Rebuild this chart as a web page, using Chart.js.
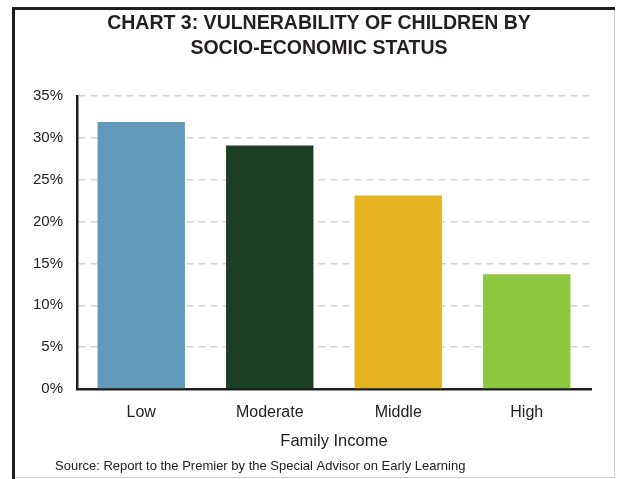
<!DOCTYPE html>
<html>
<head>
<meta charset="utf-8">
<script src="https://cdn.jsdelivr.net/npm/chart.js@4/dist/chart.umd.min.js"></script>
<style>
  html, body { margin: 0; padding: 0; background: #fff; }
  #wrap { width: 618px; height: 479px; position: relative; }
</style>
</head>
<body>
<div id="wrap"><canvas id="chart" width="618" height="479"></canvas></div>
<script>
const categories = ['Low', 'Moderate', 'Middle', 'High'];
const vulnerable = [31.9, 29.1, 23.1, 13.7];
const barColors = ['#6399bb', '#1b3f25', '#e5b322', '#8dc63f'];
const yTicks = [0, 5, 10, 15, 20, 25, 30, 35];
const titleLines = ['CHART 3: VULNERABILITY OF CHILDREN BY', 'SOCIO-ECONOMIC STATUS'];
const axisTitle = 'Family Income';
const sourceNote = 'Source: Report to the Premier by the Special Advisor on Early Learning';

const FONT = "'Liberation Sans', Arial, sans-serif";

// frame, title (centred a bit right of the plot like the original) and source line
const framePlugin = {
    id: 'frame',
    afterDraw(chart) {
        const ctx = chart.ctx;
        ctx.save();
        ctx.strokeStyle = '#cfcfcf';
        ctx.lineWidth = 1;
        ctx.beginPath();
        ctx.moveTo(614.5, 8);
        ctx.lineTo(614.5, 477.5);
        ctx.lineTo(13, 477.5);
        ctx.stroke();
        ctx.strokeStyle = '#1e1e1e';
        ctx.lineWidth = 3;
        ctx.beginPath();
        ctx.moveTo(13.5, 479);
        ctx.lineTo(13.5, 8.5);
        ctx.lineTo(615, 8.5);
        ctx.stroke();

        ctx.fillStyle = '#231f20';
        ctx.font = 'bold 19.5px ' + FONT;
        ctx.textAlign = 'center';
        ctx.textBaseline = 'middle';
        titleLines.forEach((line, i) => ctx.fillText(line, 319, 23.5 + i * 25));

        ctx.fillStyle = '#222';
        ctx.font = '13px ' + FONT;
        ctx.textAlign = 'left';
        ctx.fillText(sourceNote, 55, 466);
        ctx.restore();
    }
};

new Chart(document.getElementById('chart'), {
    type: 'bar',
    data: {
        labels: categories,
        datasets: [{
            data: vulnerable,
            backgroundColor: barColors,
            borderWidth: 0,
            categoryPercentage: 1,
            barPercentage: 0.68
        }]
    },
    options: {
        responsive: false,
        animation: false,
        layout: { padding: { top: 96, left: 16, right: 27, bottom: 28 } },
        plugins: {
            legend: { display: false },
            tooltip: { enabled: false },
            title: { display: false }
        },
        scales: {
            x: {
                afterFit(scale) { scale.height = 62; },
                grid: { display: false, drawTicks: false },
                border: { display: true, color: '#1e1e1e', width: 2.5 },
                ticks: { color: '#222', padding: 14, font: { family: FONT, size: 16 } },
                title: {
                    display: true,
                    text: axisTitle,
                    color: '#222',
                    font: { family: FONT, size: 16.5 },
                    padding: { top: 9, bottom: 0 }
                }
            },
            y: {
                min: 0,
                max: 35,
                afterBuildTicks(scale) {
                    scale.ticks = yTicks.map(v => ({ value: v }));
                },
                afterFit(scale) { scale.width = 61; },
                grid: { color: '#d2d2d2', lineWidth: 1.5, drawTicks: false },
                border: { display: true, color: '#1e1e1e', width: 2.5, dash: [7, 5] },
                ticks: {
                    color: '#222',
                    padding: 14,
                    font: { family: FONT, size: 15 },
                    callback: v => v + '%'
                }
            }
        }
    },
    plugins: [framePlugin]
});
</script>
</body>
</html>
